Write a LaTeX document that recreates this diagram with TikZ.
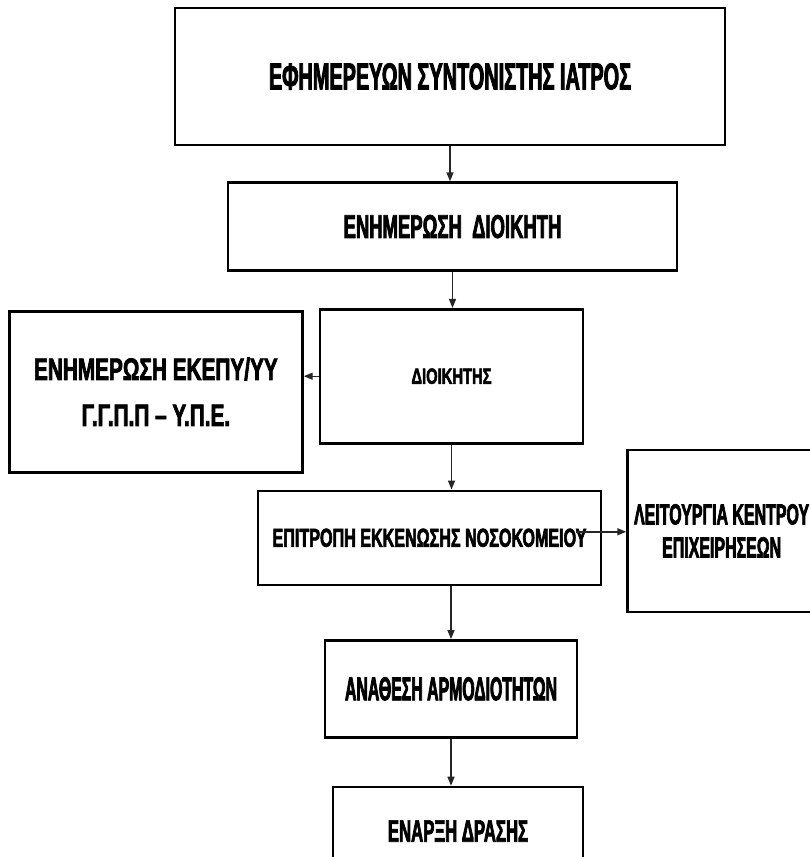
\documentclass[tikz,border=0pt]{standalone}
\usepackage{fontspec}
\newfontfamily\grfont{Liberation Sans}[FakeBold=2.2]
\usepackage{tikz}
\usetikzlibrary{positioning,arrows.meta}
% size, baselineskip, horizontal squeeze
\newcommand{\fsz}[3]{\grfont\addfontfeatures{FakeStretch=#3}\bfseries\fontsize{#1}{#2}\selectfont}
\tikzstyle{box} = [rectangle, draw=black, line width=2.6pt, align=center, inner sep=0pt, fill=white]
\tikzstyle{arrow} = [line width=1.4pt, draw=black!85, -{Triangle[length=9pt,width=7pt]}]

\begin{document}
\begin{tikzpicture}[x=1pt, y=-1pt, node distance=35pt]
\useasboundingbox (0,0) rectangle (810,857);

            % Nodes
            \node (doctor) [box, minimum width=550pt, minimum height=137pt, font=\fsz{37.5}{40}{0.53}] at (450,76.5) {ΕΦΗΜΕΡΕΥΩΝ ΣΥΝΤΟΝΙΣΤΗΣ ΙΑΤΡΟΣ};
            \node (inform) [box, minimum width=449pt, minimum height=88pt, font=\fsz{33}{36}{0.56}, below=of doctor, xshift=2.5pt] {ΕΝΗΜΕΡΩΣΗ\ \ ΔΙΟΙΚΗΤΗ};
            \node (director) [box, minimum width=263pt, minimum height=134pt, font=\fsz{22}{24}{0.67}, below=36pt of inform, xshift=-1pt] {ΔΙΟΙΚΗΤΗΣ};
            \node (ekepy) [box, minimum width=293pt, minimum height=161pt, font=\fsz{31}{46}{0.67}, left=15pt of director, yshift=-15.5pt] {ΕΝΗΜΕΡΩΣΗ ΕΚΕΠΥ/ΥΥ\\Γ.Γ.Π.Π – Υ.Π.Ε.};

            \node (committee) [box, minimum width=343pt, minimum height=94pt, font=\fsz{26}{28}{0.62}, below=45pt of director, xshift=-22pt] {ΕΠΙΤΡΟΠΗ ΕΚΚΕΝΩΣΗΣ ΝΟΣΟΚΟΜΕΙΟΥ};
            \node (opscentre) [box, minimum width=188pt, minimum height=162pt, font=\fsz{29}{33}{0.55}, right=24pt of committee, yshift=7pt] {ΛΕΙΤΟΥΡΓΙΑ ΚΕΝΤΡΟΥ\\ΕΠΙΧΕΙΡΗΣΕΩΝ};

            \node (duties) [box, minimum width=252pt, minimum height=97pt, font=\fsz{33}{36}{0.48}, below=53pt of committee, xshift=21.5pt] {ΑΝΑΘΕΣΗ ΑΡΜΟΔΙΟΤΗΤΩΝ};
            \node (action) [box, minimum width=250pt, minimum height=88pt, font=\fsz{31}{34}{0.54}, below=47pt of duties, xshift=7pt] {ΕΝΑΡΞΗ ΔΡΑΣΗΣ};

            % Arrows
            \draw [arrow] (doctor.south) -- (doctor.south |- inform.north);
            \draw [arrow] (inform.south) -- (inform.south |- director.north);
            \draw [arrow] (director.west) -- (director.west -| ekepy.east);
            \draw [arrow] (director.south) -- (director.south |- committee.north);
            \coordinate (tail) at ([xshift=-26pt, yshift=6pt]committee.east);
            \draw [arrow] (tail) -- (tail -| opscentre.west);
            \draw [arrow] (duties.north |- committee.south) -- (duties.north);
            \draw [arrow] (duties.south) -- (duties.south |- action.north);
        \end{tikzpicture}
\end{document}
